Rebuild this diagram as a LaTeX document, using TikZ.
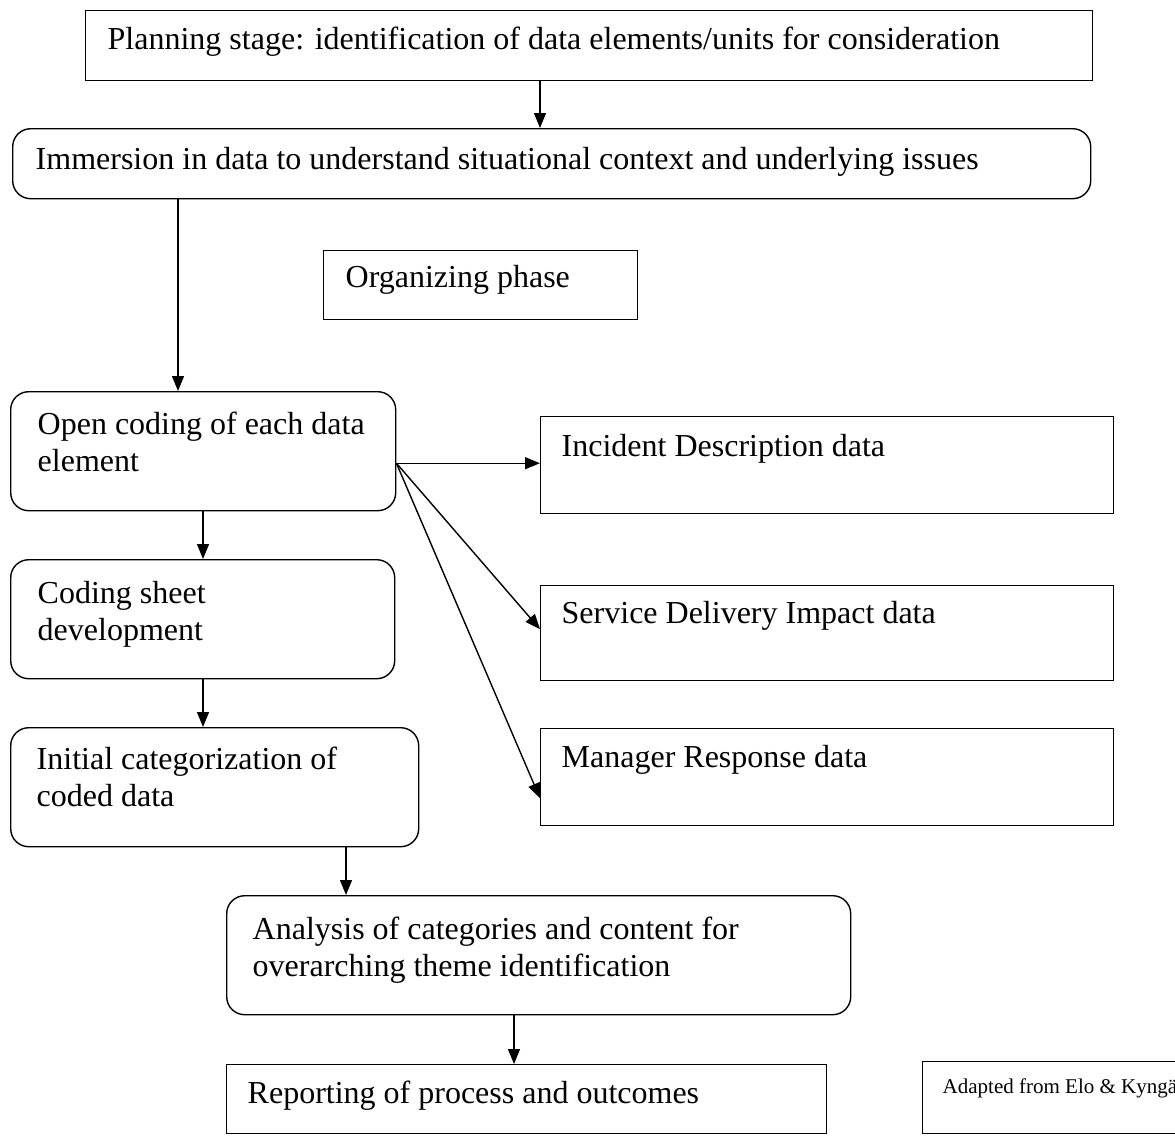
\documentclass[tikz,border=0pt]{standalone}
\usepackage{fontspec}
\setmainfont{Liberation Serif}
\usetikzlibrary{arrows.meta}
\begin{document}
\begin{tikzpicture}[x=1pt,y=-1pt, line width=1.4pt,
  sq/.style={draw, rectangle, inner sep=0pt, anchor=north west},
  rd/.style={sq, rounded corners=18pt},
  txt/.style={anchor=base west, inner sep=0pt, align=left, font=\fontsize{32}{37}\selectfont},
  small/.style={anchor=base west, inner sep=0pt, font=\fontsize{21}{25}\selectfont},
  arr/.style={-{Triangle[length=15pt,width=12pt]}}]
\useasboundingbox (0,0) rectangle (1175,1135);

% boxes
\node[sq, minimum width=1007pt, minimum height=70pt] (p) at (85,10) {};
\node[rd, minimum width=1078pt, minimum height=70pt] (im) at (12,128) {};
\node[sq, minimum width=314pt, minimum height=69pt] (org) at (323,250) {};
\node[rd, minimum width=385pt, minimum height=119pt] (oc) at (10,391) {};
\node[rd, minimum width=384pt, minimum height=119pt] (cs) at (10,559) {};
\node[rd, minimum width=408pt, minimum height=119pt] (ic) at (10,727) {};
\node[rd, minimum width=624pt, minimum height=119pt] (an) at (226,895) {};
\node[sq, minimum width=600pt, minimum height=69pt] (rp) at (226,1064) {};
\node[sq, minimum width=573pt, minimum height=97pt] (inc) at (540,416) {};
\node[sq, minimum width=573pt, minimum height=95pt] (sd) at (540,585) {};
\node[sq, minimum width=573pt, minimum height=97pt] (md) at (540,728) {};
\node[sq, minimum width=300pt, minimum height=72pt] (ad) at (922,1061) {};

% texts
\node[txt] (tp) at (107,49) {Planning stage: identification of data elements/units for consideration};
\node[txt] (tim) at (35,169) {Immersion in data to understand situational context and underlying issues};
\node[txt] (torg) at (345,287) {Organizing phase};
\node[txt] (toc) at (37,471) {Open coding of each data\\element};
\node[txt] (tcs) at (37,640) {Coding sheet\\development};
\node[txt] (tic) at (36,806) {Initial categorization of\\coded data};
\node[txt] (tan) at (252,976) {Analysis of categories and content for\\overarching theme identification};
\node[txt] (trp) at (247,1103) {Reporting of process and outcomes};
\node[txt] (tinc) at (561,456) {Incident Description data};
\node[txt] (tsd) at (561,623) {Service Delivery Impact data};
\node[txt] (tmd) at (561,767) {Manager Response data};
\node[small] (tad) at (942,1093) {Adapted from Elo \& Kyngäs};

% connectors
\draw[arr] ([xshift=455pt]p.south west) -- ([xshift=455pt]p.south west |- im.north);
\draw[arr] ([xshift=166pt]im.south west) -- ([xshift=166pt]im.south west |- oc.north);
\draw[arr] ([xshift=193pt]oc.south west) -- ([xshift=193pt]oc.south west |- cs.north);
\draw[arr] ([xshift=193pt]cs.south west) -- ([xshift=193pt]cs.south west |- ic.north);
\draw[arr] ([xshift=336pt]ic.south west) -- ([xshift=336pt]ic.south west |- an.north);
\draw[arr] ([xshift=288pt]an.south west) -- ([xshift=288pt]an.south west |- rp.north);
\coordinate (o) at ([yshift=-12pt]oc.east);
\draw[arr] (o) -- (o -| inc.west);
\draw[arr] (o) -- ([yshift=4pt]sd.west);
\draw[arr] (o) -- ([yshift=-21pt]md.west);
\end{tikzpicture}
\end{document}
